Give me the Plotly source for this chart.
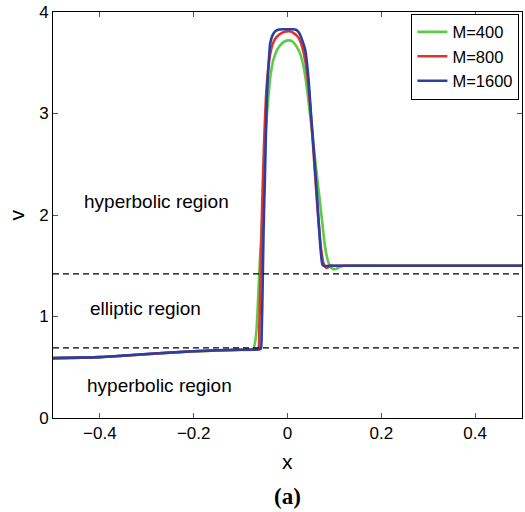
import plotly.graph_objects as go

# ---- data ----
x_m400 = [-0.5, -0.44, -0.4, -0.35, -0.3, -0.25, -0.2, -0.15, -0.1, -0.075, -0.072,
          -0.068, -0.065, -0.062, -0.059, -0.055, -0.050, -0.046, -0.041, -0.036,
          -0.030, -0.022, -0.012, -0.004, 0.002, 0.010, 0.018, 0.026, 0.033, 0.040,
          0.046, 0.052, 0.060, 0.068, 0.074, 0.080, 0.086, 0.093, 0.102, 0.110,
          0.120, 0.2, 0.3, 0.4, 0.5]
v_m400 = [0.59, 0.595, 0.60, 0.613, 0.628, 0.643, 0.656, 0.665, 0.671, 0.674, 0.69,
          0.78, 0.95, 1.25, 1.55, 1.85, 2.40, 2.84, 3.15, 3.38,
          3.53, 3.63, 3.69, 3.715, 3.72, 3.71, 3.67, 3.60, 3.49, 3.30,
          3.07, 2.84, 2.50, 2.18, 1.93, 1.69, 1.55, 1.48, 1.465, 1.485,
          1.50, 1.50, 1.50, 1.50, 1.50]

x_m800 = [-0.5, -0.44, -0.4, -0.35, -0.3, -0.25, -0.2, -0.15, -0.1, -0.066, -0.062,
          -0.060, -0.057, -0.054, -0.050, -0.046, -0.041, -0.035, -0.027, -0.017,
          -0.006, 0.004, 0.014, 0.023, 0.031, 0.038, 0.045, 0.052, 0.058, 0.065,
          0.072, 0.077, 0.081, 0.085, 0.090, 0.1, 0.2, 0.3, 0.4, 0.5]
v_m800 = [0.59, 0.595, 0.60, 0.614, 0.629, 0.644, 0.657, 0.666, 0.672, 0.675, 0.68,
          0.90, 1.50, 2.10, 2.70, 3.15, 3.45, 3.63, 3.73, 3.78,
          3.805, 3.81, 3.79, 3.75, 3.66, 3.52, 3.25, 2.85, 2.45, 2.00,
          1.65, 1.52, 1.485, 1.48, 1.50, 1.50, 1.50, 1.50, 1.50, 1.50]

x_m1600 = [-0.5, -0.44, -0.4, -0.35, -0.3, -0.25, -0.2, -0.15, -0.1, -0.062, -0.057,
           -0.055, -0.053, -0.051, -0.048, -0.044, -0.040, -0.037, -0.032, -0.026,
           -0.020, -0.010, 0.0, 0.010, 0.018, 0.024, 0.030, 0.038, 0.045, 0.050,
           0.0555, 0.063, 0.070, 0.074, 0.076, 0.1, 0.2, 0.3, 0.4, 0.5]
v_m1600 = [0.59, 0.595, 0.60, 0.615, 0.630, 0.645, 0.658, 0.667, 0.672, 0.675, 0.68,
           0.85, 1.30, 1.85, 2.40, 3.16, 3.50, 3.69, 3.77, 3.81,
           3.825, 3.83, 3.83, 3.83, 3.825, 3.80, 3.74, 3.62, 3.33, 3.00,
           2.67, 2.18, 1.69, 1.52, 1.50, 1.50, 1.50, 1.50, 1.50, 1.50]

series_names = ["M=400", "M=800", "M=1600"]
series_colors = ["#5ccb48", "#e4322b", "#2b3fa3"]

region_bounds = [0.69, 1.42]
region_labels = ["hyperbolic region", "elliptic region", "hyperbolic region"]
region_label_x = [-0.28, -0.303, -0.272]
region_label_y = [2.13, 1.076, 0.32]

x_ticks = [-0.4, -0.2, 0, 0.2, 0.4]
y_ticks = [0, 1, 2, 3, 4]

FONT = "Liberation Sans, Arial, Helvetica, sans-serif"

fig = go.Figure()
for xs, vs, name, col in zip([x_m400, x_m800, x_m1600],
                             [v_m400, v_m800, v_m1600],
                             series_names, series_colors):
    fig.add_trace(go.Scatter(x=xs, y=vs, mode="lines", name=name,
                             line=dict(color=col, width=2.6, shape="spline", smoothing=0.6)))

for b in region_bounds:
    fig.add_shape(type="line", xref="paper", yref="y", x0=0, x1=1, y0=b, y1=b,
                  line=dict(color="black", width=1.3, dash="6px,4px"), layer="above")

for t, lx, ly in zip(region_labels, region_label_x, region_label_y):
    fig.add_annotation(x=lx, y=ly, text=t, showarrow=False,
                       font=dict(family=FONT, size=19, color="black"))

fig.add_annotation(xref="paper", yref="paper", x=0.5, y=-0.108, yanchor="middle",
                   text="x", showarrow=False, font=dict(family=FONT, size=21, color="black"))
fig.add_annotation(xref="paper", yref="paper", x=-0.078, y=0.5, xanchor="center",
                   text="v", textangle=-90, showarrow=False,
                   font=dict(family=FONT, size=21, color="black"))
fig.add_annotation(xref="paper", yref="paper", x=0.5, y=-0.193, yanchor="middle",
                   text="<b>(a)</b>", showarrow=False,
                   font=dict(family="Liberation Serif, Times New Roman, serif", size=23, color="black"))

axis_common = dict(showline=True, linecolor="black", linewidth=1, mirror="ticks",
                   ticks="inside", ticklen=5, tickcolor="#555", showgrid=False,
                   zeroline=False, tickfont=dict(family=FONT, size=17, color="black"))

fig.update_layout(
    width=525, height=512,
    margin=dict(l=53, r=3, t=12, b=94),
    paper_bgcolor="white", plot_bgcolor="white",
    xaxis=dict(range=[-0.5, 0.5], tickvals=x_ticks, **axis_common),
    yaxis=dict(range=[0, 4], tickvals=y_ticks, **axis_common),
    legend=dict(x=0.9945, y=0.996, xanchor="right", yanchor="top",
                bgcolor="white", bordercolor="black", borderwidth=1,
                font=dict(family=FONT, size=16.5, color="black"),
                tracegroupgap=0, itemwidth=30),
    showlegend=True,
)

fig.write_html("out.html")
